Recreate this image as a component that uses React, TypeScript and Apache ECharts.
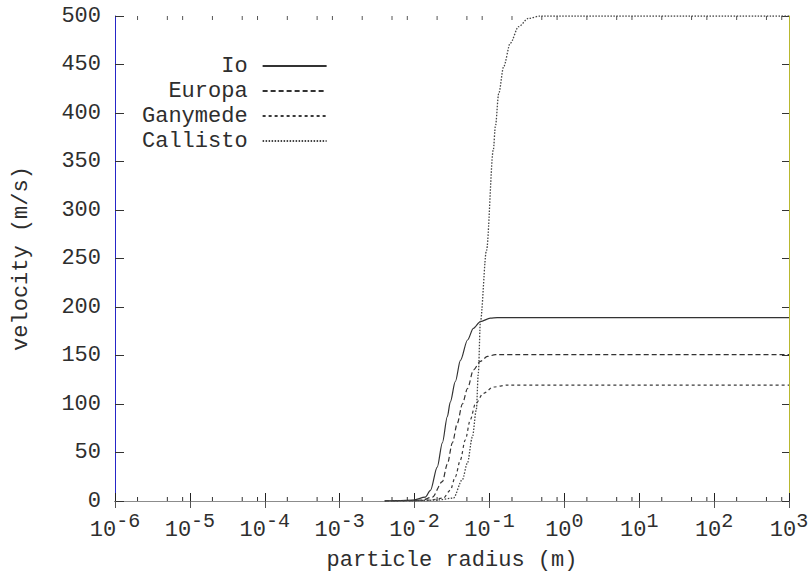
import React, { useEffect, useRef } from 'react';
import * as echarts from 'echarts';

// Decade tick exponents of the logarithmic radius axis and the visible minor-tick multipliers
const decadeExponents = [-6, -5, -4, -3, -2, -1, 0, 1, 2, 3];
const minorMultipliers = [2, 5, 8];

// Axis ranges
const radiusMin = 1e-6;
const radiusMax = 1e3;
const velocityMin = 0;
const velocityMax = 500;
const velocityStep = 50;

const seriesNames = ['Io', 'Europa', 'Ganymede', 'Callisto'];

// [particle radius (m), velocity (m/s)]
const ioPoints = [
  [0.004, 0], [0.006, 0.3], [0.0096, 1], [0.0139, 4], [0.0163, 11], [0.0201, 35],
  [0.0235, 60], [0.0274, 87], [0.03, 102], [0.035, 123], [0.041, 145], [0.051, 166],
  [0.061, 178], [0.0757, 185], [0.103, 188.5], [0.127, 189], [1000, 189],
];
const europaPoints = [
  [0.004, 0], [0.008, 0.3], [0.0126, 1], [0.0173, 4], [0.0235, 20], [0.0274, 38],
  [0.032, 60], [0.0372, 80], [0.0435, 100], [0.051, 116], [0.061, 135], [0.0757, 144],
  [0.094, 149], [0.12, 151], [1000, 151],
];
const ganymedePoints = [
  [0.004, 0], [0.01, 0.3], [0.016, 1], [0.0242, 3], [0.03, 11], [0.035, 25],
  [0.0408, 42], [0.0476, 63], [0.0556, 84], [0.0649, 100], [0.083, 111], [0.113, 117.5],
  [0.173, 119.5], [1000, 119.5],
];
const callistoPoints = [
  [0.004, 0], [0.012, 0.3], [0.02, 1], [0.033, 3], [0.0435, 22], [0.0507, 39],
  [0.0592, 66], [0.0668, 94], [0.0711, 132], [0.0757, 185], [0.0912, 258], [0.1127, 362],
  [0.12, 386], [0.133, 420], [0.155, 448], [0.19, 472], [0.245, 489], [0.33, 497.5],
  [0.48, 500], [1000, 500],
];

export default function App() {
  const ref = useRef<HTMLDivElement>(null);

  useEffect(() => {
    if (!ref.current) return;
    const chart = echarts.init(ref.current, null, { renderer: 'svg' });
    const font = '"Liberation Mono", "DejaVu Sans Mono", monospace';
    const textColor = '#2e2e2e';
    const lineColor = '#333333';

    const minorTickData = decadeExponents
      .slice(0, -1)
      .flatMap((e) => minorMultipliers.map((m) => [m * Math.pow(10, e), 0]));

    const rich = {
      b: { fontFamily: font, fontSize: 22, color: textColor, verticalAlign: 'bottom' },
      s: { fontFamily: font, fontSize: 20, color: textColor, verticalAlign: 'bottom', padding: [0, 0, 10, 0] },
    };

    const lineSeries = (name: string, data: number[][], type: any, color: string, width: number) => ({
      name,
      type: 'line',
      data,
      showSymbol: false,
      symbol: 'none',
      legendIcon: 'none',
      smooth: 0.3,
      smoothMonotone: 'x',
      lineStyle: { color, width, type },
      itemStyle: { color },
      z: 4,
    });

    chart.setOption({
      animation: false,
      backgroundColor: '#ffffff',
      grid: { left: 115, right: 20, top: 16, bottom: 73, containLabel: false, outerBoundsMode: 'none' },
      legend: {
        orient: 'vertical',
        left: 142,
        top: 55,
        align: 'right',
        padding: 0,
        itemWidth: 64,
        itemHeight: 12,
        itemGap: 3,
        data: seriesNames,
        itemStyle: { opacity: 0 },
        textStyle: {
          fontFamily: font,
          fontSize: 22,
          color: textColor,
          lineHeight: 20,
          padding: [0, 10, 0, 0],
        },
      },
      xAxis: [
        {
          type: 'log',
          logBase: 10,
          min: radiusMin,
          max: radiusMax,
          position: 'bottom',
          name: 'particle radius (m)',
          nameLocation: 'middle',
          nameGap: 48,
          nameTextStyle: { fontFamily: font, fontSize: 22, color: textColor },
          axisLine: { lineStyle: { color: '#111111', width: 1 } },
          axisTick: { inside: true, length: 8, lineStyle: { color: '#222222' } },
          splitLine: { show: false },
          minorTick: { show: false },
          axisLabel: {
            margin: 10,
            showMinLabel: true,
            showMaxLabel: true,
            hideOverlap: false,
            formatter: (v: number) => `{b|10}{s|${Math.round(Math.log10(v))}}`,
            rich,
          },
        },
        {
          type: 'log',
          logBase: 10,
          min: radiusMin,
          max: radiusMax,
          position: 'top',
          axisLine: { lineStyle: { color: '#8c8c8c', width: 1 } },
          axisTick: { inside: true, length: 7, lineStyle: { color: '#555555' } },
          axisLabel: { show: false },
          splitLine: { show: false },
        },
      ],
      yAxis: [
        {
          type: 'value',
          min: velocityMin,
          max: velocityMax,
          interval: velocityStep,
          position: 'left',
          name: 'velocity (m/s)',
          nameLocation: 'middle',
          nameGap: 83,
          nameTextStyle: { fontFamily: font, fontSize: 22, color: textColor },
          axisLine: { show: true, lineStyle: { color: '#2626c8', width: 1 } },
          axisTick: { show: true, inside: true, length: 9, lineStyle: { color: '#333333' } },
          splitLine: { show: false },
          axisLabel: { margin: 14, fontFamily: font, fontSize: 22, color: textColor },
        },
        {
          type: 'value',
          min: velocityMin,
          max: velocityMax,
          interval: velocityStep,
          position: 'right',
          axisLine: { show: true, lineStyle: { color: '#b8b830', width: 1 } },
          axisTick: { show: true, inside: true, length: 7, lineStyle: { color: '#333333' } },
          splitLine: { show: false },
          axisLabel: { show: false },
        },
      ],
      series: [
        lineSeries('Io', ioPoints, 'solid', lineColor, 1.2),
        lineSeries('Europa', europaPoints, [5, 3], lineColor, 1.2),
        lineSeries('Ganymede', ganymedePoints, [3, 3], '#3a3a3a', 1.2),
        lineSeries('Callisto', callistoPoints, [1.5, 1.5], '#444444', 1.3),
        {
          name: 'minorTicks',
          type: 'custom',
          silent: true,
          xAxisIndex: 0,
          yAxisIndex: 0,
          data: minorTickData,
          z: 3,
          renderItem: (params: any, api: any) => {
            const x = api.value(0);
            const b = api.coord([x, velocityMin]);
            const t = api.coord([x, velocityMax]);
            return {
              type: 'group',
              children: [
                { type: 'line', shape: { x1: b[0], y1: b[1], x2: b[0], y2: b[1] - 4 }, style: { stroke: '#333333', lineWidth: 1 } },
                { type: 'line', shape: { x1: t[0], y1: t[1], x2: t[0], y2: t[1] + 4 }, style: { stroke: '#555555', lineWidth: 1 } },
              ],
            };
          },
        },
      ],
    });

    return () => chart.dispose();
  }, []);

  return (
    <div
      ref={ref}
      style={{ position: 'fixed', left: 0, top: 0, width: 809, height: 574 }}
    />
  );
}
